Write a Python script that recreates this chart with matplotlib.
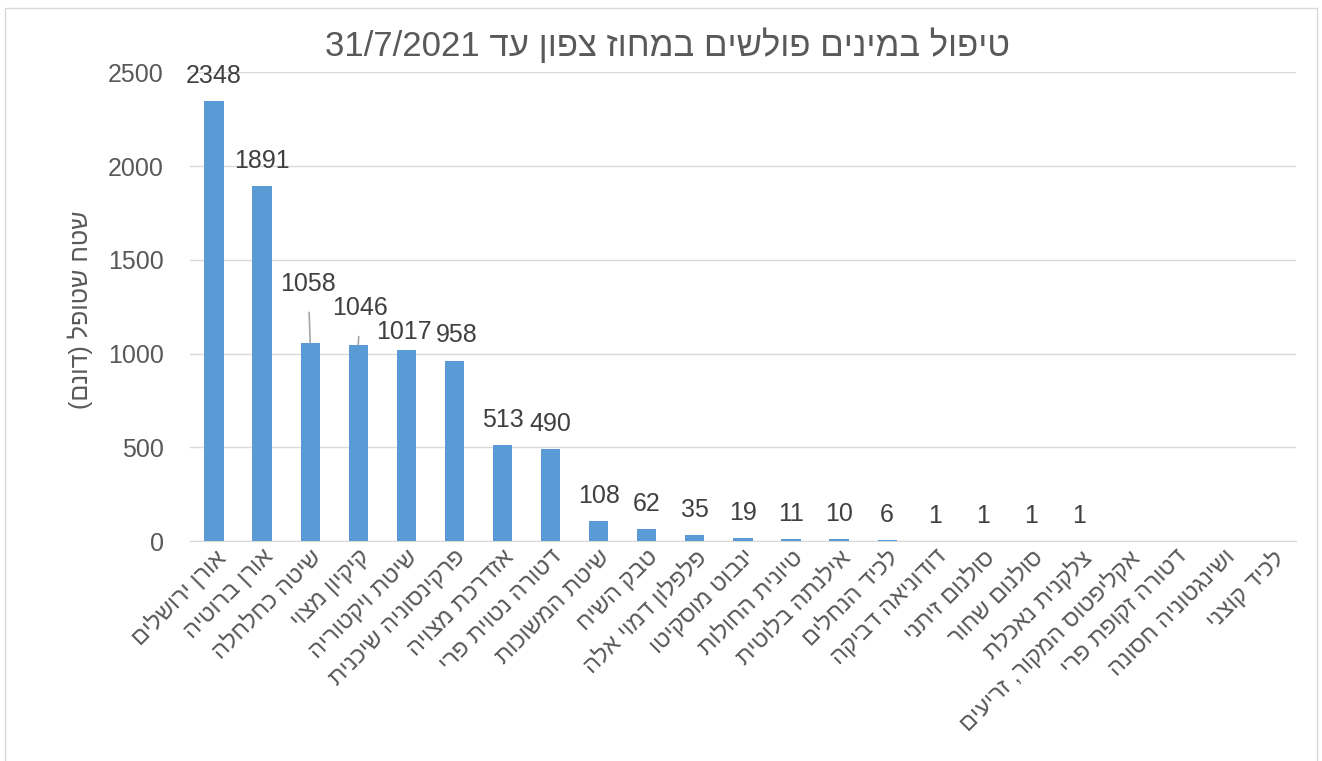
import re
import matplotlib
matplotlib.use("Agg")
import matplotlib.pyplot as plt
from matplotlib.patches import Rectangle

# species names in logical (RTL) order
species = [
    "אורן ירושלים", "אורן ברוטיה", "שיטה כחלחלה", "קיקיון מצוי",
    "שיטת ויקטוריה", "פרקינסוניה שיכנית", "אזדרכת מצויה", "דטורה נטוית פרי",
    "שיטת המשוכות", "טבק השיח", "פלפלון דמוי אלה", "ינבוט מוסקיטו",
    "טיונית החולות", "אילנתה בלוטית", "לכיד הנחלים", "דודוניאה דביקה",
    "סולנום זיתני", "סולנום שחור", "צלקנית נאכלת", "אקליפטוס המקור, זריעים",
    "דטורה זקופת פרי", "ושינגטוניה חסונה", "לכיד קוצני",
]
area = [2348, 1891, 1058, 1046, 1017, 958, 513, 490, 108, 62, 35, 19,
        11, 10, 6, 1, 1, 1, 1, 0, 0, 0, 0]
yticks = [0, 500, 1000, 1500, 2000, 2500]

title = "טיפול במינים פולשים במחוז צפון עד 31/7/2021"
ylabel = "שטח שטופל (דונם)"


def rtl(s):
    # matplotlib has no bidi support: flip Hebrew, keep numbers as they are
    s = s[::-1]
    s = re.sub(r"[0-9/]+", lambda m: m.group()[::-1], s)
    return s.translate(str.maketrans("()", ")("))


plt.rcParams['font.family'] = ['Liberation Sans', 'DejaVu Sans']
grey = "#595959"

fig = plt.figure(figsize=(13.22, 7.61), dpi=100)
fig.patches.append(Rectangle((0.004, -0.01), 0.992, 1.0, transform=fig.transFigure,
                             fill=False, edgecolor="#D9D9D9", linewidth=1))
ax = fig.add_axes([0.1437, 0.289, 0.8365, 0.616])

x = list(range(len(species)))
ax.bar(x, area, width=0.4, color="#5B9BD5", zorder=3)

ax.set_xlim(-0.5, len(species) - 0.5)
ax.set_ylim(0, 2500)
ax.set_yticks(yticks)
ax.grid(axis="y", color="#D9D9D9", linewidth=1, zorder=0)
for side in ["top", "right", "left"]:
    ax.spines[side].set_visible(False)
ax.spines["bottom"].set_color("#D9D9D9")
ax.tick_params(axis="both", length=0, colors=grey, labelsize=18)
ax.tick_params(axis="y", pad=19)
ax.set_xticks(x)
ax.set_xticklabels([rtl(s) for s in species], rotation=45, ha="right",
                   rotation_mode="anchor", fontsize=17, color=grey)

# data labels (a few were dragged away in the original, with leader lines)
shift = {2: (-2, 59), 3: (2, 37), 4: (-2, 18), 5: (2, 26)}
for i, v in enumerate(area):
    if v == 0:
        continue
    dx, dy = shift.get(i, (0, 25))
    arrow = None
    if i in (2, 3):
        arrow = dict(arrowstyle="-", color="#A6A6A6", linewidth=1.2,
                     shrinkA=10, shrinkB=0)
    ax.annotate(str(v), (i, v), xytext=(dx, dy), textcoords="offset pixels",
                ha="center", va="center", fontsize=18, color="#404040",
                arrowprops=arrow, zorder=4)

fig.text(0.505, 0.941, rtl(title), ha="center", va="center",
         fontsize=25, color=grey)
fig.text(0.0605, 0.593, rtl(ylabel), rotation=90, ha="center", va="center",
         fontsize=18, color=grey)

fig.savefig("out.png", dpi=100)
